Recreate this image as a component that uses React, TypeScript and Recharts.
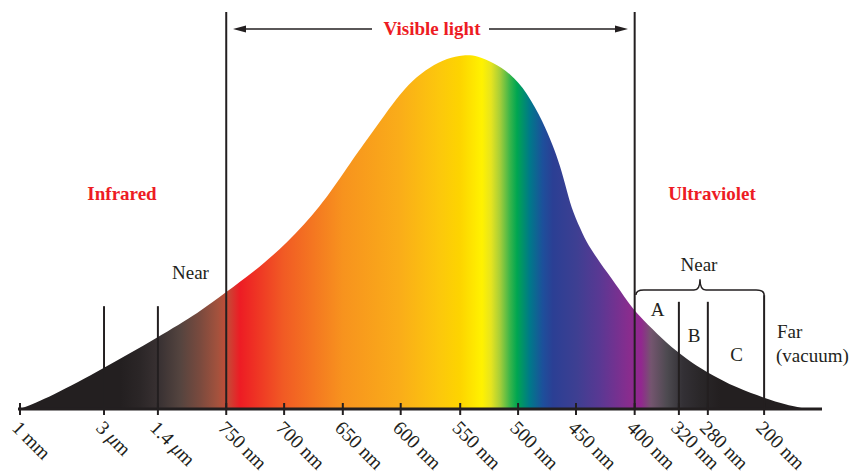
import { ComposedChart, Area, XAxis, YAxis, ReferenceLine, ReferenceArea } from 'recharts'

// curve of the spectrum, position along the axis (0-100) vs. relative height (0-100)
const POSITIONS = [
  0.25, 4.0, 10.7, 17.4, 22.6, 25.9, 29.2, 33.5, 37.6, 40.9, 42.9, 45.0, 47.1, 49.1, 51.2, 53.4, 55.4,
  57.2, 59.1, 61.2, 63.3, 65.3, 66.5, 67.4, 68.3, 69.0, 70.3, 71.1, 73.3, 75.3, 76.7, 82.2, 85.8, 89.4,
  92.8, 95.6, 98.1,
]
const HEIGHTS = [
  0, 3.0, 10.3, 18.1, 24.4, 29.5, 34.3, 41.8, 50.9, 60.7, 66.5, 72.3, 78.3, 82.9, 86.1, 88.4, 89.2,
  89.0, 87.2, 84.6, 79.8, 72.3, 66.5, 61.5, 54.7, 49.6, 43.8, 40.6, 34.3, 28.7, 24.4, 13.6, 9.1, 5.3,
  2.8, 1.0, 0,
]

const TICK_POS = [0.25, 10.7, 17.4, 25.9, 33.1, 40.4, 47.6, 55.0, 62.2, 69.4, 76.7, 82.2, 85.8, 92.8]
const TICK_LABELS = [
  '1 mm', '3 μm', '1.4 μm', '750 nm', '700 nm', '650 nm', '600 nm',
  '550 nm', '500 nm', '450 nm', '400 nm', '320 nm', '280 nm', '200 nm',
]

// band divider lines: where they stand and how tall they are
const DIVIDER_POS = [10.7, 17.4, 25.9, 76.7, 82.2, 85.8, 92.8]
const DIVIDER_TOP = [25.9, 25.9, 100, 100, 27.0, 27.0, 28.7]

const data = POSITIONS.map((pos, i) => ({ pos, height: HEIGHTS[i] }))

const INK = '#231f20'
const RED = '#ed1c24'
const SERIF = '"Liberation Serif", "Times New Roman", serif'

const SPECTRUM_STOPS: [number, string][] = [
  [0, '#231f20'],
  [120, '#231f20'],
  [140, '#2b2627'],
  [160, '#3a3233'],
  [180, '#54443f'],
  [200, '#7a4a3e'],
  [218, '#a4523d'],
  [227, '#c44b37'],
  [240, '#ed1c24'],
  [283, '#f15a24'],
  [343, '#f7931e'],
  [400, '#faad19'],
  [440, '#fcc80c'],
  [460, '#fdd400'],
  [482, '#fff200'],
  [491, '#e6e41f'],
  [500, '#a6ce39'],
  [510, '#39b54a'],
  [517, '#00a651'],
  [530, '#00788a'],
  [543, '#1d4f9b'],
  [553, '#2b3f94'],
  [577, '#3e3f92'],
  [600, '#5a3893'],
  [630, '#8a2c8e'],
  [641, '#92278f'],
  [651, '#74556f'],
  [667, '#4d4a50'],
  [683, '#333035'],
  [700, '#2a2729'],
  [720, '#231f20'],
  [851, '#231f20'],
]

function SpectrumTick(props: any) {
  const { x, y, payload } = props
  const i = TICK_POS.indexOf(payload.value)
  const label = TICK_LABELS[i] ?? ''
  const ax = x - 9
  const ay = y + 20
  const parts = label.split('μ')
  return (
    <g>
      <line x1={x} x2={x} y1={y - 6} y2={y + 6} stroke={INK} strokeWidth={2} />
      <text
        x={ax}
        y={ay}
        transform={`rotate(45 ${ax} ${ay})`}
        fontFamily={SERIF}
        fontSize={19.5}
        fill={INK}
      >
        {parts.length > 1 ? (
          <>
            {parts[0]}
            <tspan fontStyle="italic">μ</tspan>
            {parts[1]}
          </>
        ) : (
          label
        )}
      </text>
    </g>
  )
}

function Brace(props: any) {
  const { x, y, width, height } = props
  const x0 = x
  const x1 = x + width
  const yb = y + height
  const ym = yb - 5
  const cx = x + width / 2
  const d = `M ${x0} ${yb} Q ${x0} ${ym} ${x0 + 8} ${ym} L ${cx - 6} ${ym} Q ${cx} ${ym} ${cx} ${y} Q ${cx} ${ym} ${cx + 6} ${ym} L ${x1 - 8} ${ym} Q ${x1} ${ym} ${x1} ${yb}`
  return <path d={d} fill="none" stroke={INK} strokeWidth={1.5} />
}

export default function App() {
  return (
    <div style={{ position: 'relative', width: 851, height: 474, background: '#fff' }}>
      <style>{'body { margin: 0; }'}</style>
      <ComposedChart width={851} height={474} data={data} margin={{ top: 12, right: 29, bottom: 0, left: 18 }}>
        <defs>
          <linearGradient id="spectrum" gradientUnits="userSpaceOnUse" x1="0" y1="0" x2="851" y2="0">
            {SPECTRUM_STOPS.map(([px, color]) => (
              <stop key={px} offset={px / 851} stopColor={color} />
            ))}
          </linearGradient>
        </defs>
        <YAxis hide domain={[0, 100]} type="number" />
        <Area
          type="basis"
          dataKey="height"
          stroke="none"
          fill="url(#spectrum)"
          fillOpacity={1}
          isAnimationActive={false}
          dot={false}
          activeDot={false}
        />
        {DIVIDER_POS.map((pos, i) => (
          <ReferenceLine
            key={pos}
            segment={[
              { x: pos, y: 0 },
              { x: pos, y: DIVIDER_TOP[i] },
            ]}
            stroke={INK}
            strokeWidth={2}
          />
        ))}
        <ReferenceArea x1={76.85} x2={92.8} y1={28.7} y2={32.7} shape={<Brace />} />
        <XAxis
          dataKey="pos"
          type="number"
          domain={[0, 100]}
          ticks={TICK_POS}
          interval={0}
          height={65}
          tickSize={0}
          tickMargin={0}
          tickLine={false}
          axisLine={{ stroke: INK, strokeWidth: 3 }}
          tick={<SpectrumTick />}
          allowDataOverflow
        />
      </ComposedChart>
      <svg
        width={851}
        height={474}
        style={{ position: 'absolute', left: 0, top: 0, pointerEvents: 'none' }}
        fontFamily={SERIF}
      >
        <line x1={240} x2={372} y1={29} y2={29} stroke={INK} strokeWidth={1.5} />
        <polygon points="233,29 246,25.5 246,32.5" fill={INK} />
        <line x1={489} x2={621} y1={29} y2={29} stroke={INK} strokeWidth={1.5} />
        <polygon points="628,29 615,25.5 615,32.5" fill={INK} />
        <text x={432} y={35} textAnchor="middle" fontSize={19} fontWeight="bold" fill={RED}>
          Visible light
        </text>
        <text x={122} y={200} textAnchor="middle" fontSize={19} fontWeight="bold" fill={RED}>
          Infrared
        </text>
        <text x={712} y={200} textAnchor="middle" fontSize={19} fontWeight="bold" fill={RED}>
          Ultraviolet
        </text>
        <text x={172} y={279} fontSize={19} fill={INK}>Near</text>
        <text x={699} y={271} textAnchor="middle" fontSize={19} fill={INK}>Near</text>
        <text x={657.5} y={316} textAnchor="middle" fontSize={19} fill={INK}>A</text>
        <text x={694} y={342} textAnchor="middle" fontSize={19} fill={INK}>B</text>
        <text x={736.5} y={361} textAnchor="middle" fontSize={19} fill={INK}>C</text>
        <text x={777} y={338} fontSize={19} fill={INK}>Far</text>
        <text x={776} y={362} fontSize={19} fill={INK}>(vacuum)</text>
      </svg>
    </div>
  )
}
